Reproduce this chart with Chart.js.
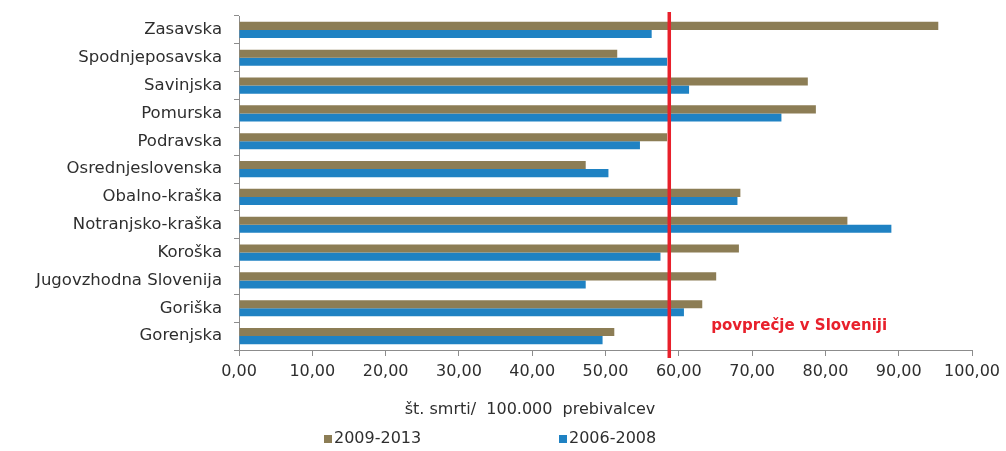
<!DOCTYPE html>
<html>
<head>
<meta charset="utf-8">
<script src="https://cdn.jsdelivr.net/npm/chart.js@4/dist/chart.umd.min.js"></script>
<style>
  html, body { margin: 0; padding: 0; background: #fff; }
  #wrap { width: 1006px; height: 451px; position: relative; }
</style>
</head>
<body>
<div id="wrap"><canvas id="regionChart"></canvas></div>
<script>
  const regions = [
    "Zasavska", "Spodnjeposavska", "Savinjska", "Pomurska", "Podravska",
    "Osrednjeslovenska", "Obalno-kraška", "Notranjsko-kraška", "Koroška",
    "Jugovzhodna Slovenija", "Goriška", "Gorenjska"
  ];
  const rate2009_2013 = [95.4, 51.6, 77.6, 78.7, 58.4, 47.3, 68.4, 83.0, 68.2, 65.1, 63.2, 51.2];
  const rate2006_2008 = [56.3, 58.4, 61.4, 74.0, 54.7, 50.4, 68.0, 89.0, 57.5, 47.3, 60.7, 49.6];
  const sloveniaAverage = 58.7;
  const xTicks = [0, 10, 20, 30, 40, 50, 60, 70, 80, 90, 100];

  const OLIVE = "#8c7d55";
  const BLUE = "#1f82c3";
  const RED = "#e8202b";
  const TEXT = "#2e2e2e";
  const AXIS = "#8c8c8c";

  // average line, its label, axis title and legend
  const extras = {
    id: "extras",
    afterDatasetsDraw(chart) {
      const { ctx, scales: { x }, chartArea } = chart;
      const px = x.getPixelForValue(sloveniaAverage);
      ctx.save();
      ctx.strokeStyle = RED;
      ctx.lineWidth = 3.5;
      ctx.beginPath();
      ctx.moveTo(px, chartArea.top - 4);
      ctx.lineTo(px, chartArea.bottom + 8);
      ctx.stroke();

      ctx.fillStyle = RED;
      ctx.font = "bold 15px 'DejaVu Sans'";
      ctx.textBaseline = "middle";
      ctx.textAlign = "left";
      ctx.fillText("povprečje v Sloveniji", px + 42, chartArea.bottom - 24);
      ctx.restore();
    },
    afterDraw(chart) {
      const { ctx } = chart;
      ctx.save();
      ctx.fillStyle = TEXT;
      ctx.font = "16px 'DejaVu Sans'";
      ctx.textBaseline = "middle";
      ctx.textAlign = "center";
      ctx.fillText("št. smrti/  100.000  prebivalcev", 530, 410);

      ctx.textAlign = "left";
      const items = [
        { label: chart.data.datasets[0].label, color: chart.data.datasets[0].backgroundColor, x: 324 },
        { label: chart.data.datasets[1].label, color: chart.data.datasets[1].backgroundColor, x: 559 }
      ];
      items.forEach(it => {
        ctx.fillStyle = it.color;
        ctx.fillRect(it.x, 435, 8, 8);
        ctx.fillStyle = TEXT;
        ctx.fillText(it.label, it.x + 10, 439);
      });
      ctx.restore();
    }
  };

  new Chart(document.getElementById("regionChart"), {
    type: "bar",
    data: {
      labels: regions,
      datasets: [
        { label: "2009-2013", data: rate2009_2013, backgroundColor: OLIVE },
        { label: "2006-2008", data: rate2006_2008, backgroundColor: BLUE }
      ]
    },
    options: {
      indexAxis: "y",
      responsive: true,
      maintainAspectRatio: false,
      animation: false,
      datasets: { bar: { categoryPercentage: 0.58, barPercentage: 1.0 } },
      layout: { padding: { left: 0, right: 33, top: 16, bottom: 61 } },
      plugins: {
        legend: { display: false },
        tooltip: { enabled: false }
      },
      scales: {
        x: {
          min: 0,
          max: 100,
          afterBuildTicks: axis => { axis.ticks = xTicks.map(v => ({ value: v })); },
          afterFit: axis => { axis.height = 40; },
          border: { color: AXIS, width: 1 },
          grid: { drawOnChartArea: false, color: AXIS, tickLength: 6 },
          ticks: {
            color: TEXT,
            font: { family: "DejaVu Sans", size: 16 },
            padding: 6,
            maxRotation: 0,
            callback: v => v.toFixed(2).replace(".", ",")
          }
        },
        y: {
          afterFit: axis => {
            axis.width = 239;
            axis.paddingTop = 0;
            axis.paddingBottom = 0;
          },
          border: { color: AXIS, width: 1 },
          grid: { drawOnChartArea: false, color: AXIS, tickLength: 5, offset: true },
          ticks: {
            color: TEXT,
            font: { family: "DejaVu Sans", size: 16.5 },
            padding: 12
          }
        }
      }
    },
    plugins: [extras]
  });
</script>
</body>
</html>
